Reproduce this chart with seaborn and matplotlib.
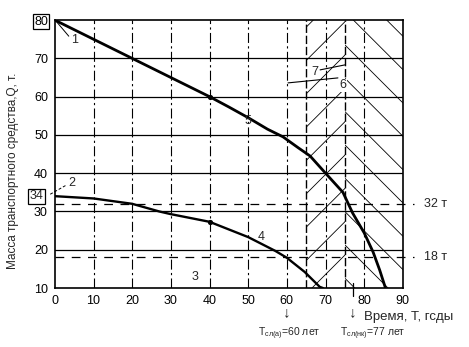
import matplotlib
matplotlib.use("Agg")
import matplotlib.pyplot as plt
import matplotlib.transforms as mtransforms
import pandas as pd
import seaborn as sns

# Curve 1: vehicle mass with the upper starting value (80 t)
t_upper = [0, 10, 20, 30, 40, 45, 50, 55, 59, 63, 66, 70, 74.5, 77, 80, 82.3, 84, 85.5]
q_upper = [80, 75, 70, 65, 60, 57.3, 54.5, 51.5, 49.5, 46.6, 44.5, 40, 35, 29.6, 24.4, 19.4, 14.7, 10]

# Curve 2: vehicle mass with the lower starting value (34 t)
t_lower = [0, 10, 20, 27, 30, 40, 50, 57, 60, 64.6, 68.5, 69.3]
q_lower = [34, 33.4, 32.0, 30.0, 29.3, 27.3, 23.3, 19.7, 17.9, 14.2, 10.3, 10]

# Marked points at T = 40
dots_t = [40, 40]
dots_q = [60, 27.3]

# Limit levels
limit_levels = [32, 18]
limit_labels = ["32 т", "18 т"]

# Service-life zones
zone_a = (65, 75)
zone_b = (75, 90)
life_years = [60, 77]
life_labels = [r"T$_{\mathregular{сл(а)}}$=60 лет", r"T$_{\mathregular{сл(нк)}}$=77 лет"]

x_ticks = list(range(0, 91, 10))
y_ticks = list(range(10, 81, 10))

sns.set_theme(style="white")
plt.rcParams["font.family"] = ["Liberation Sans", "DejaVu Sans"]
plt.rcParams["mathtext.default"] = "regular"
plt.rcParams["hatch.linewidth"] = 0.6
plt.rcParams["hatch.color"] = "black"

fig = plt.figure(figsize=(4.69, 3.47), dpi=100)
ax = fig.add_axes([0.117, 0.170, 0.742, 0.772])

# hatched zones
ax.axvspan(*zone_a, facecolor="none", edgecolor="black", hatch="/", lw=0)
ax.axvspan(*zone_b, facecolor="none", edgecolor="black", hatch="\\", lw=0)
for xv in (zone_a[0], zone_b[0]):
    ax.axvline(xv, color="black", lw=1.0, ls=(0, (6, 2)))

# grid
for yv in y_ticks[1:-1]:
    ax.axhline(yv, color="black", lw=0.9)
for xv in x_ticks[1:-1]:
    ax.axvline(xv, color="black", lw=0.8, ls=(0, (9, 3, 2, 3)))

# limit levels
for lvl, lab in zip(limit_levels, limit_labels):
    ax.plot([0, 92.8], [lvl, lvl], color="black", lw=0.9, ls=(0, (7, 6)), clip_on=False)
    ax.text(95.5, lvl, lab, fontsize=9, va="center", ha="left", clip_on=False)

upper = pd.DataFrame({"t": t_upper, "q": q_upper})
lower = pd.DataFrame({"t": t_lower, "q": q_lower})
sns.lineplot(data=upper, x="t", y="q", color="black", lw=2.0, ax=ax, sort=False)
sns.lineplot(data=lower, x="t", y="q", color="black", lw=1.7, ax=ax, sort=False)
sns.scatterplot(x=dots_t, y=dots_q, color="black", s=14, ax=ax, zorder=5, linewidth=0)

ax.set_xlim(0, 90)
ax.set_ylim(10, 80)
ax.set_xticks(x_ticks)
ax.set_yticks(y_ticks)
ax.tick_params(axis="both", length=0, labelsize=9, pad=5, colors="black")
ax.set_xlabel("")
ax.set_ylabel("")
for s in ax.spines.values():
    s.set_color("black")
    s.set_linewidth(1.2)

ylabels = ax.get_yticklabels()
ylabels[-1].set_bbox(dict(boxstyle="square,pad=0.12", fc="none", ec="black", lw=0.9))

# boxed starting value of curve 2
trans = mtransforms.blended_transform_factory(ax.transAxes, ax.transData)
ax.text(-0.032, 34, "34", fontsize=9, ha="right", va="center", transform=trans,
        bbox=dict(boxstyle="square,pad=0.12", fc="none", ec="black", lw=0.9), clip_on=False)

# curve numbers and leaders
ax.plot([0.5, 3.6], [79.5, 75.8], color="black", lw=0.7)
ax.text(5.0, 74.8, "1", fontsize=9, ha="center", va="center")
ax.plot([-1.2, 2.8], [34.5, 36.8], color="black", lw=0.7, ls=(0, (3, 2)), clip_on=False)
ax.text(4.4, 37.5, "2", fontsize=9, ha="center", va="center")
ax.text(36.2, 12.9, "3", fontsize=9, ha="center", va="center")
ax.text(53.3, 23.2, "4", fontsize=9, ha="center", va="center")
ax.text(50.0, 53.6, "5", fontsize=9, ha="center", va="center")
ax.plot([60.3, 73.2], [63.6, 64.9], color="black", lw=0.8)
ax.text(74.6, 63.0, "6", fontsize=9, ha="center", va="center",
        bbox=dict(boxstyle="square,pad=0.05", fc="white", ec="none"))
ax.plot([68.6, 75.0], [67.0, 68.3], color="black", lw=0.8)
ax.text(67.3, 66.4, "7", fontsize=9, ha="center", va="center",
        bbox=dict(boxstyle="square,pad=0.05", fc="white", ec="none"))

# service-life markers below the axis
ax.plot([77, 77], [11.2, 7.8], color="black", lw=0.9, clip_on=False)
for yr in life_years:
    ax.text(yr, 3.6, "↓", fontsize=11, ha="center", va="center", clip_on=False)
ax.text(60.5, -2.0, life_labels[0], fontsize=7.5, ha="center", va="center", clip_on=False)
ax.text(82.2, -2.0, life_labels[1], fontsize=7.5, ha="center", va="center", clip_on=False)
ax.text(80.0, 2.3, "Время, Т, гсды", fontsize=9.5, ha="left", va="center", clip_on=False)

fig.text(0.027, 1 - 171 / 347, "Масса транспортного средства,Q, т.", rotation=90,
         fontsize=8.5, ha="center", va="center")

fig.savefig("out.png", dpi=100)
